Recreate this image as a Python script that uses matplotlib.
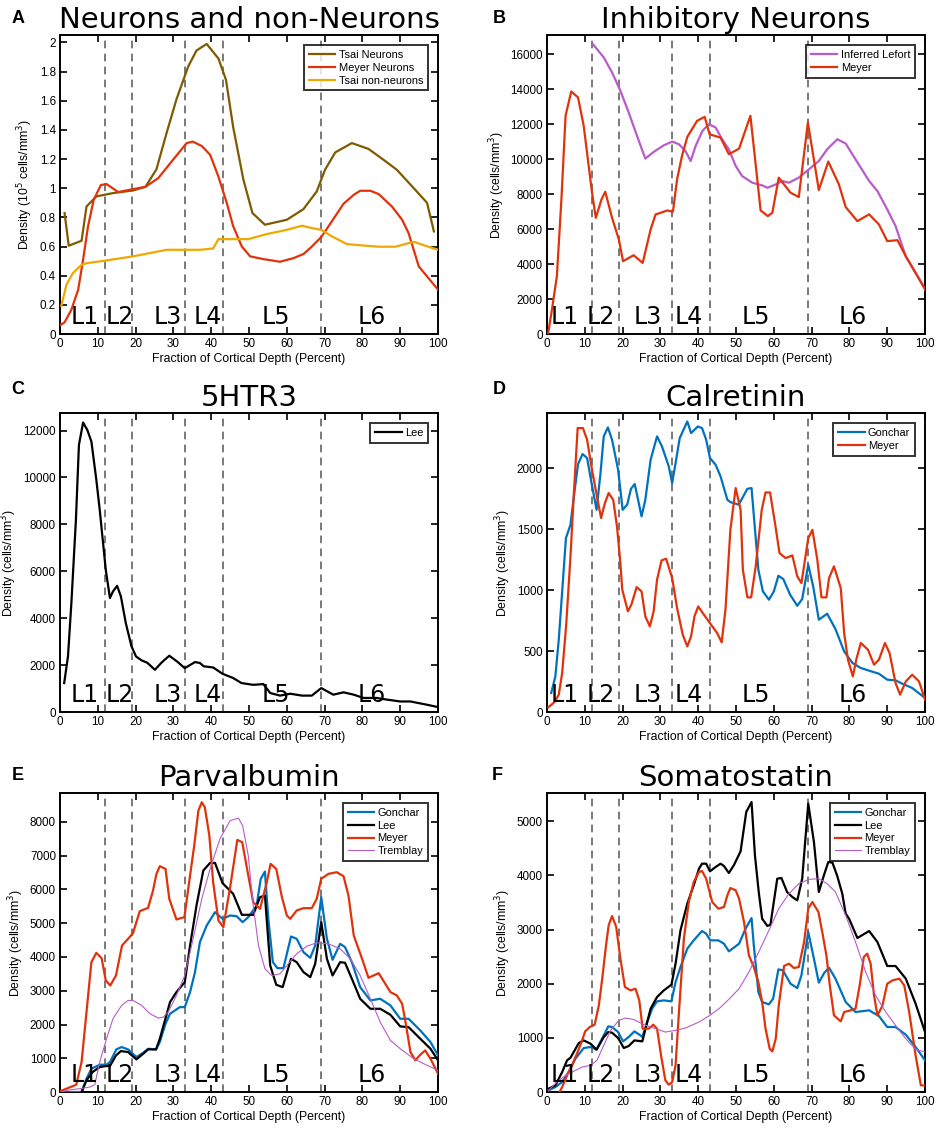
import matplotlib
matplotlib.use("Agg")
import matplotlib.pyplot as plt
from matplotlib.ticker import FuncFormatter

# ---------------- data ----------------
layer_bounds = [12, 19, 33, 43, 69]
layer_names = ["L1", "L2", "L3", "L4", "L5", "L6"]

# A: Neurons and non-Neurons (10^5 cells/mm^3)
tsai_n_x = [1.2, 2.3, 5.7, 7.0, 9.6, 14, 19.3, 22.6, 25.5, 28.2, 30.8, 33.9, 36.1, 38.8, 41.9, 43.9,
            45.8, 48.5, 50.9, 54.2, 60.0, 64.4, 67.9, 70.1, 72.8, 77.2, 81.6, 85.6, 89.1, 93.6, 97.1, 98.9]
tsai_n_y = [0.83, 0.606, 0.64, 0.875, 0.944, 0.967, 0.985, 1.01, 1.13, 1.38, 1.61, 1.835, 1.945, 1.99, 1.89, 1.744,
            1.42, 1.06, 0.83, 0.75, 0.784, 0.857, 0.978, 1.127, 1.246, 1.31, 1.27, 1.195, 1.127, 1.0, 0.9, 0.704]
meyer_n_x = [0.2, 1.2, 3.0, 4.8, 6.1, 7.4, 8.9, 10.8, 12.3, 15.4, 19.3, 22.6, 26.0, 29.1, 33.5, 35.1, 37.5,
             39.7, 41.9, 44.1, 45.8, 48.1, 50.3, 53.8, 58.2, 61.8, 64.4, 66.6, 69.1, 71.9, 75.0, 77.7, 79.4,
             82.1, 84.3, 87.8, 90.5, 92.2, 94.9, 97.1, 100]
meyer_n_y = [0.064, 0.08, 0.167, 0.304, 0.51, 0.738, 0.92, 1.022, 1.029, 0.974, 0.994, 1.01, 1.07, 1.17, 1.31,
             1.32, 1.29, 1.23, 1.08, 0.90, 0.74, 0.60, 0.533, 0.514, 0.496, 0.521, 0.549, 0.60, 0.665, 0.773,
             0.894, 0.955, 0.983, 0.983, 0.96, 0.875, 0.784, 0.693, 0.464, 0.395, 0.304]
tsai_nn_x = [0.35, 1.7, 3.4, 5.7, 7.2, 12.3, 19.3, 28.2, 33.5, 37.0, 40.5, 41.9, 44.1, 49.8, 54.7, 60.0, 64.0,
             66.6, 69.1, 71.9, 75.9, 79.9, 84.3, 88.7, 93.6, 96.6, 100]
tsai_nn_y = [0.194, 0.338, 0.418, 0.475, 0.487, 0.505, 0.533, 0.578, 0.578, 0.578, 0.587, 0.651, 0.651, 0.651,
             0.686, 0.715, 0.743, 0.727, 0.715, 0.67, 0.617, 0.608, 0.599, 0.599, 0.633, 0.606, 0.578]

# B: Inhibitory neurons
lefort_x = [12.1, 15.0, 17.2, 19.4, 21.6, 23.8, 26.0, 28.2, 30.9, 33.1, 34.9, 36.6, 38.0, 39.3, 41.1, 42.8,
            44.6, 46.3, 48.1, 49.9, 51.6, 54.3, 56.9, 58.3, 60.5, 62.2, 64.0, 66.6, 69.3, 71.9, 74.1, 76.8,
            79.0, 81.6, 85.2, 87.4, 90.0, 92.2, 94.9, 97.5, 100]
lefort_y = [16596, 15830, 14970, 13920, 12680, 11340, 10040, 10420, 10800, 11010, 10860, 10480, 9900, 10760,
            11620, 12010, 11820, 11150, 10570, 9620, 9040, 8660, 8510, 8370, 8560, 8760, 8660, 8950, 9430,
            9900, 10570, 11150, 10900, 10000, 8760, 8180, 7130, 6180, 4450, 3500, 2540]
meyer_inh_x = [0.3, 1.3, 2.6, 3.8, 4.9, 6.4, 8.2, 9.7, 11.9, 12.9, 14.4, 15.4, 17.2, 19.0, 20.1, 22.9, 25.3,
               27.4, 28.7, 31.8, 33.3, 34.4, 35.7, 37.1, 39.7, 41.7, 43.0, 45.9, 48.1, 50.8, 53.8, 56.5,
               58.4, 59.6, 61.3, 64.4, 66.6, 69.0, 71.9, 74.4, 77.2, 79.0, 82.1, 85.2, 87.8, 90.0, 92.7,
               94.9, 97.5, 100]
meyer_inh_y = [57, 1400, 3310, 7700, 12490, 13880, 13540, 11910, 8090, 6650, 7700, 8140, 6650, 5410, 4170,
               4510, 4070, 5980, 6840, 7070, 7000, 8850, 10190, 11280, 12200, 12430, 11430, 11240, 10290,
               10610, 12490, 7070, 6750, 6940, 8950, 8090, 7840, 12100, 8240, 9870, 8570, 7270, 6460, 6850,
               6270, 5320, 5370, 4450, 3500, 2580]

# C: 5HTR3
lee_5ht_x = [1.1, 2.1, 3.0, 4.2, 5.0, 6.1, 7.2, 8.3, 9.6, 10.5, 12.1, 13.2, 14.0, 15.1, 16.1, 17.4, 18.9,
             20.1, 21.6, 23.1, 25.1, 26.8, 28.9, 31.0, 33.0, 35.7, 37.0, 38.0, 40.5, 43.0, 45.8, 48.0, 51.1,
             53.8, 55.6, 58.2, 60.9, 64.0, 66.6, 69.1, 72.3, 75.0, 77.7, 80.3, 83.8, 85.6, 90.0, 92.7,
             97.1, 100]
lee_5ht_y = [1235, 2370, 4640, 8190, 11390, 12340, 12030, 11530, 9900, 8620, 6060, 4860, 5140, 5380, 4930,
             3790, 2800, 2370, 2200, 2100, 1800, 2100, 2400, 2150, 1870, 2130, 2090, 1950, 1900, 1630, 1450,
             1235, 1160, 1190, 810, 700, 780, 700, 700, 1020, 740, 840, 740, 600, 600, 550, 450, 450,
             310, 210]

# D: Calretinin
gon_cr_x = [1.1, 2.2, 3.1, 4.1, 5.0, 6.2, 7.1, 8.2, 9.4, 10.6, 11.7, 13.1, 14.1, 15.0, 16.1, 17.2, 18.8,
            20.0, 21.2, 22.2, 23.2, 25.0, 26.0, 27.4, 29.1, 30.4, 32.2, 33.1, 34.0, 35.1, 37.1, 38.1, 39.9,
            41.0, 42.1, 43.1, 44.6, 45.9, 47.7, 48.5, 50.7, 53.0, 54.1, 55.9, 57.1, 58.7, 60.0, 61.2, 62.5,
            64.3, 66.2, 67.5, 69.1, 70.4, 71.9, 74.1, 76.3, 78.6, 80.8, 83.0, 85.2, 87.8, 90.0, 92.2, 94.0,
            96.6, 100]
gon_cr_y = [156, 292, 593, 1030, 1426, 1535, 1768, 2033, 2115, 2082, 1890, 1658, 1945, 2260, 2333, 2232,
            1986, 1658, 1700, 1830, 1869, 1604, 1740, 2068, 2260, 2178, 2014, 1877, 2041, 2246, 2382, 2287,
            2341, 2328, 2232, 2082, 2027, 1932, 1740, 1721, 1700, 1830, 1836, 1167, 989, 921, 989, 1117,
            1090, 962, 871, 926, 1208, 1030, 757, 806, 680, 497, 402, 361, 339, 314, 265, 260, 232, 197, 115]
mey_cr_x = [0.3, 2.0, 3.1, 4.0, 5.1, 6.2, 7.1, 8.1, 9.5, 10.6, 11.9, 13.2, 14.3, 15.3, 16.3, 17.5, 18.5,
            19.4, 19.9, 21.4, 22.3, 23.7, 25.0, 26.0, 27.2, 28.2, 29.1, 30.3, 31.5, 33.1, 34.4, 35.9, 37.1,
            38.1, 39.0, 40.0, 41.2, 43.1, 45.0, 46.2, 47.2, 48.5, 49.9, 51.2, 51.8, 53.0, 54.0, 55.2, 56.8,
            57.8, 59.0, 60.3, 61.5, 63.1, 64.9, 66.2, 67.3, 69.1, 70.2, 71.5, 72.6, 73.9, 74.6, 75.9, 77.7,
            78.6, 79.6, 80.9, 81.8, 83.0, 84.9, 86.5, 87.8, 89.4, 90.6, 92.2, 93.4, 94.9, 96.6, 98.4, 100]
mey_cr_y = [38, 82, 142, 320, 729, 1276, 1795, 2328, 2328, 2232, 1986, 1768, 1590, 1713, 1795, 1740, 1522,
            1221, 1003, 825, 880, 1024, 989, 784, 702, 825, 1085, 1243, 1257, 1098, 852, 634, 538, 620, 784,
            866, 811, 729, 647, 571, 839, 1494, 1836, 1658, 1167, 940, 940, 1194, 1658, 1800, 1800, 1549,
            1303, 1262, 1284, 1112, 1057, 1426, 1494, 1248, 940, 940, 1098, 1194, 1016, 647, 429, 292, 429,
            566, 511, 388, 429, 566, 484, 238, 142, 251, 306, 251, 101]

# E: Parvalbumin
gon_pv_x = [0.4, 5.7, 7.0, 8.3, 10.5, 12.3, 13.2, 14.9, 16.3, 18.0, 20.2, 22.0, 23.3, 25.4, 26.4, 27.9, 29.1,
            31.7, 33.0, 34.4, 35.7, 37.0, 38.8, 41.0, 43.0, 45.0, 46.7, 48.3, 49.8, 52.0, 53.1, 54.2, 55.1,
            56.3, 57.5, 59.1, 61.1, 62.6, 64.4, 66.2, 67.5, 69.1, 70.6, 72.1, 74.1, 75.4, 77.2, 79.4, 82.1,
            84.7, 87.4, 90.0, 92.2, 95.3, 98.0, 100]
gon_pv_y = [0, 0, 395, 690, 809, 809, 888, 1263, 1332, 1263, 1036, 1164, 1282, 1263, 1480, 2022, 2318, 2515,
            2515, 2959, 3551, 4439, 4932, 5327, 5129, 5228, 5208, 5031, 5179, 5524, 6313, 6530, 5129, 3847,
            3669, 3669, 4607, 4538, 4143, 3975, 4340, 5771, 4538, 3916, 4390, 4291, 3847, 3107, 2713, 2762,
            2565, 2170, 2170, 1825, 1480, 1085]
lee_pv_x = [5.7, 7.0, 8.6, 10.5, 12.1, 13.2, 14.8, 16.1, 18.0, 20.2, 22.0, 23.3, 25.4, 26.4, 29.1, 30.8, 33.0,
            34.4, 36.1, 37.9, 39.7, 41.0, 43.0, 45.8, 48.1, 51.1, 52.9, 54.2, 55.6, 57.2, 58.9, 61.1, 62.6,
            64.4, 66.2, 67.5, 69.1, 70.6, 72.1, 74.1, 75.4, 77.2, 79.4, 82.1, 84.7, 87.4, 90.0, 92.2, 95.3,
            98.0, 100]
lee_pv_y = [0, 345, 592, 740, 769, 769, 1085, 1213, 1184, 967, 1134, 1263, 1263, 1578, 2663, 2959, 3255, 4340,
            5524, 6560, 6786, 6786, 6185, 5869, 5248, 5248, 5771, 5820, 3748, 3176, 3107, 3946, 3847, 3551,
            3403, 3798, 5031, 3946, 3452, 3847, 3827, 3354, 2762, 2466, 2466, 2288, 1943, 1923, 1578, 1282, 937]
mey_pv_x = [0.2, 1.7, 4.3, 5.7, 7.0, 8.3, 9.6, 11.0, 12.1, 13.3, 14.8, 16.4, 18.0, 19.3, 21.1, 23.3, 24.6,
            25.5, 26.4, 27.9, 28.9, 30.8, 32.9, 34.4, 35.5, 36.6, 37.5, 38.3, 39.5, 40.5, 41.9, 43.2, 45.0,
            46.9, 48.2, 49.4, 51.1, 52.9, 54.7, 55.7, 57.2, 58.7, 60.0, 60.9, 62.6, 64.4, 66.6, 67.9, 69.1,
            71.0, 73.2, 75.0, 76.3, 77.7, 79.9, 81.6, 84.3, 87.4, 89.1, 90.5, 91.4, 92.7, 94.0, 95.3, 96.6,
            98.0, 100]
mey_pv_y = [30, 99, 217, 888, 2367, 3847, 4123, 3965, 3304, 3156, 3452, 4340, 4538, 4705, 5356, 5455, 5968,
            6461, 6688, 6609, 5721, 5110, 5179, 6412, 7300, 8335, 8582, 8434, 7595, 6215, 5080, 4883, 6066,
            7467, 7398, 6658, 5623, 5425, 6215, 6757, 6609, 5771, 5228, 5129, 5376, 5445, 5445, 5721, 6313,
            6461, 6510, 6392, 5820, 4636, 3946, 3383, 3521, 2959, 2861, 2614, 2071, 1184, 937, 1105, 1233,
            986, 543]
tre_pv_x = [0.4, 1.7, 5.2, 7.9, 9.2, 10.5, 12.3, 14.0, 16.3, 18.0, 19.3, 21.6, 23.8, 26.0, 27.3, 28.6, 30.8,
            33.0, 35.2, 37.5, 39.7, 42.3, 45.0, 47.2, 48.3, 49.8, 51.1, 52.5, 54.2, 56.0, 58.2, 60.0, 62.6,
            65.3, 67.9, 71.0, 74.1, 76.8, 79.4, 82.1, 84.7, 87.4, 90.0, 93.6, 97.1, 100]
tre_pv_y = [0, 50, 99, 148, 217, 888, 1578, 2170, 2565, 2713, 2713, 2565, 2318, 2190, 2219, 2367, 2861, 3452,
            4538, 5721, 6609, 7497, 8040, 8109, 7891, 7003, 5524, 4340, 3650, 3452, 3502, 3748, 4094, 4321,
            4419, 4390, 4242, 3946, 3452, 2762, 2071, 1529, 1282, 986, 789, 641]

# F: Somatostatin
gon_sst_x = [0.4, 2.2, 4.0, 5.7, 7.5, 9.7, 11.5, 13.1, 15.0, 16.2, 17.2, 18.8, 20.1, 21.6, 23.1, 24.7, 25.2,
             26.5, 27.8, 29.1, 30.9, 32.9, 34.0, 35.3, 37.1, 38.8, 41.0, 42.1, 43.2, 45.3, 46.8, 48.1, 50.8,
             52.5, 54.1, 54.7, 55.9, 56.9, 58.7, 59.8, 61.2, 62.4, 64.4, 66.2, 67.3, 69.1, 70.6, 71.9, 73.3,
             74.6, 76.3, 79.0, 81.6, 85.2, 87.8, 90.0, 92.2, 94.9, 97.5, 100]
gon_sst_y = [31, 92, 185, 369, 616, 813, 831, 788, 1047, 1213, 1201, 1108, 936, 1016, 1121, 1047, 1016, 1293,
             1540, 1675, 1693, 1675, 2032, 2309, 2648, 2802, 2974, 2925, 2802, 2802, 2740, 2599, 2740, 3017,
             3214, 2709, 1847, 1663, 1619, 1724, 2266, 2248, 2001, 1921, 2155, 2956, 2463, 2020, 2198, 2297,
             2094, 1663, 1478, 1509, 1404, 1201, 1201, 1059, 831, 585]
lee_sst_x = [0.4, 2.2, 4.0, 5.3, 6.2, 8.4, 9.7, 11.5, 13.1, 15.0, 16.2, 17.2, 18.8, 20.3, 21.6, 23.1, 25.2,
             26.5, 27.4, 29.1, 30.9, 32.9, 34.0, 35.3, 37.1, 38.8, 40.2, 41.0, 42.1, 43.1, 44.6, 45.9, 46.8,
             48.1, 49.4, 51.2, 52.7, 54.1, 55.0, 56.0, 56.9, 58.3, 59.1, 60.9, 62.0, 63.5, 64.9, 66.2, 67.5,
             69.1, 70.6, 71.9, 73.1, 74.4, 75.5, 76.8, 78.1, 79.0, 79.9, 82.1, 85.2, 87.4, 90.0, 92.2, 94.9,
             97.5, 100]
lee_sst_y = [62, 123, 369, 585, 634, 905, 954, 893, 782, 1016, 1108, 1096, 998, 813, 850, 954, 936, 1293,
             1540, 1755, 1878, 1983, 2371, 2987, 3479, 3818, 4126, 4218, 4218, 4077, 4157, 4218, 4175, 4046,
             4187, 4446, 5173, 5357, 4372, 3695, 3202, 3067, 3091, 3941, 3953, 3695, 3602, 3541, 3941, 5327,
             4619, 3695, 3972, 4249, 4237, 3984, 3664, 3295, 3202, 2845, 2974, 2771, 2328, 2328, 2094, 1632,
             1108]
mey_sst_x = [3.3, 4.0, 5.3, 6.6, 7.9, 8.8, 10.1, 11.3, 12.6, 13.7, 14.6, 15.6, 16.3, 17.2, 18.3, 19.4, 20.6,
             22.1, 23.4, 24.4, 25.3, 26.9, 28.1, 29.1, 30.3, 31.3, 32.2, 33.1, 34.0, 34.9, 36.2, 37.5, 38.8,
             40.2, 41.0, 42.1, 43.0, 43.7, 45.3, 46.8, 47.7, 48.5, 49.9, 50.8, 52.1, 53.4, 54.7, 55.9, 56.9,
             57.8, 58.9, 59.6, 60.5, 61.3, 62.7, 64.0, 65.3, 66.6, 68.0, 69.1, 70.2, 71.8, 72.8, 73.9, 74.8,
             75.9, 77.7, 78.6, 80.3, 81.6, 82.7, 83.8, 84.7, 85.6, 86.5, 87.4, 88.7, 90.0, 91.4, 93.2, 94.5,
             95.8, 97.5, 98.9, 100]
mey_sst_y = [0, 92, 308, 493, 708, 862, 1121, 1201, 1244, 1601, 2094, 2709, 3079, 3251, 3048, 2463, 1940,
             1878, 1909, 1693, 1170, 1170, 1244, 1170, 616, 216, 135, 185, 493, 1478, 2833, 3510, 3880, 4064,
             4083, 3941, 3695, 3510, 3387, 3418, 3633, 3769, 3726, 3572, 3141, 2525, 2309, 2032, 1663, 1170,
             801, 751, 985, 1601, 2328, 2371, 2291, 2309, 2771, 3387, 3510, 3325, 2956, 2525, 1970, 1416,
             1306, 1478, 1509, 1540, 1970, 2494, 2556, 2371, 1786, 1416, 1589, 2001, 2063, 2094, 1970, 1478,
             677, 123, 123]
tre_sst_x = [0.4, 2.6, 4.9, 6.6, 9.3, 11.5, 13.2, 15.0, 16.8, 19.0, 20.7, 22.9, 25.6, 28.7, 31.3, 34.0, 36.6,
             40.2, 42.8, 45.5, 48.1, 50.8, 53.4, 56.0, 58.7, 61.3, 64.0, 66.6, 69.3, 71.9, 74.1, 76.3, 79.0,
             81.6, 84.3, 86.9, 89.6, 92.2, 94.9, 97.5, 100]
tre_sst_y = [31, 185, 308, 369, 462, 493, 585, 862, 1139, 1324, 1367, 1342, 1244, 1170, 1108, 1139, 1182,
             1293, 1404, 1540, 1712, 1909, 2217, 2586, 2987, 3387, 3664, 3849, 3929, 3941, 3849, 3695, 3264,
             2771, 2217, 1786, 1478, 1232, 985, 788, 739]

# ---------------- style ----------------
c_brown = "#7E5A00"
c_red = "#E0330C"
c_yellow = "#F0A800"
c_blue = "#0072BD"
c_purple = "#B75CC9"
c_black = "#000000"

tick_font = "Liberation Sans"
title_font = "DejaVu Sans"

fig = plt.figure(figsize=(9.38, 11.32), dpi=100)

W = 0.403
H = 0.264
col_left = [0.064, 0.5832]
row_bottom = [0.7049, 0.3710, 0.0353]

# label offsets differ a bit between columns in the original
layer_text_x = [[6.4, 15.9, 28.4, 39.2, 57.2, 82.5],
                [4.7, 14.1, 26.7, 37.5, 55.3, 80.8]]


def gfmt(v, pos):
    return "%g" % v


def setup(ax, col, title, ylim, ystep, ylabel, ylab_x):
    ax.set_xlim(0, 100)
    ax.set_ylim(0, ylim)
    ax.set_xticks(range(0, 101, 10))
    yt = []
    v = 0
    while v <= ylim + 1e-9:
        yt.append(round(v, 4))
        v += ystep
    ax.set_yticks(yt)
    ax.yaxis.set_major_formatter(FuncFormatter(gfmt))
    ax.tick_params(direction="in", length=5, width=1.2, top=True, right=True,
                   labelsize=8.4, pad=3)
    for lab in ax.get_xticklabels() + ax.get_yticklabels():
        lab.set_fontfamily(tick_font)
    for s in ax.spines.values():
        s.set_linewidth(1.4)
    ax.set_title(title, fontsize=21, fontfamily=title_font, pad=5)
    ax.set_xlabel("Fraction of Cortical Depth (Percent)", fontsize=8.8,
                  fontfamily=tick_font, labelpad=2)
    ax.set_ylabel(ylabel, fontsize=8.8, fontfamily=tick_font)
    ax.yaxis.set_label_coords(ylab_x, 0.5)
    for b in layer_bounds:
        ax.axvline(b, color="#555555", ls=(0, (5, 3.5)), lw=1.1, zorder=1)
    for name, xp in zip(layer_names, layer_text_x[col]):
        ax.text(xp, 0.032, name, transform=ax.get_xaxis_transform(), ha="center",
                va="baseline", fontsize=17, fontfamily=title_font, zorder=5)


def legend(ax):
    leg = ax.legend(loc="upper right", frameon=True, fancybox=False,
                    handlelength=2.4, borderpad=0.45, labelspacing=0.25,
                    handletextpad=0.3, borderaxespad=0.9,
                    prop={"family": tick_font, "size": 7.9})
    leg.get_frame().set_edgecolor("black")
    leg.get_frame().set_linewidth(1.4)


def panel_letter(x, y, s):
    fig.text(x, y, s, fontsize=13, fontweight="bold", fontfamily=tick_font,
             ha="center", va="center")


lw = 1.6
ylab = "Density (cells/mm$^{3}$)"

# A
ax = fig.add_axes([col_left[0], row_bottom[0], W, H])
ax.plot(tsai_n_x, tsai_n_y, color=c_brown, lw=lw, label="Tsai Neurons", zorder=3)
ax.plot(meyer_n_x, meyer_n_y, color=c_red, lw=lw, label="Meyer Neurons", zorder=3)
ax.plot(tsai_nn_x, tsai_nn_y, color=c_yellow, lw=lw, label="Tsai non-neurons", zorder=3)
setup(ax, 0, "Neurons and non-Neurons", 2.05, 0.2, "Density (10$^{5}$ cells/mm$^{3}$)", -0.066)
legend(ax)

# B
ax = fig.add_axes([col_left[1], row_bottom[0], W, H])
ax.plot(lefort_x, lefort_y, color=c_purple, lw=lw, label="Inferred Lefort", zorder=3)
ax.plot(meyer_inh_x, meyer_inh_y, color=c_red, lw=lw, label="Meyer", zorder=3)
setup(ax, 1, "Inhibitory Neurons", 17100, 2000, ylab, -0.106)
legend(ax)

# C
ax = fig.add_axes([col_left[0], row_bottom[1], W, H])
ax.plot(lee_5ht_x, lee_5ht_y, color=c_black, lw=lw, label="Lee", zorder=3)
setup(ax, 0, "5HTR3", 12740, 2000, ylab, -0.108)
legend(ax)

# D
ax = fig.add_axes([col_left[1], row_bottom[1], W, H])
ax.plot(gon_cr_x, gon_cr_y, color=c_blue, lw=lw, label="Gonchar", zorder=3)
ax.plot(mey_cr_x, mey_cr_y, color=c_red, lw=lw, label="Meyer", zorder=3)
setup(ax, 1, "Calretinin", 2450, 500, ylab, -0.09)
legend(ax)

# E
ax = fig.add_axes([col_left[0], row_bottom[2], W, H])
ax.plot(gon_pv_x, gon_pv_y, color=c_blue, lw=lw, label="Gonchar", zorder=3)
ax.plot(lee_pv_x, lee_pv_y, color=c_black, lw=lw, label="Lee", zorder=3)
ax.plot(mey_pv_x, mey_pv_y, color=c_red, lw=lw, label="Meyer", zorder=3)
ax.plot(tre_pv_x, tre_pv_y, color=c_purple, lw=0.8, label="Tremblay", zorder=3)
setup(ax, 0, "Parvalbumin", 8850, 1000, ylab, -0.09)
legend(ax)

# F
ax = fig.add_axes([col_left[1], row_bottom[2], W, H])
ax.plot(gon_sst_x, gon_sst_y, color=c_blue, lw=lw, label="Gonchar", zorder=3)
ax.plot(lee_sst_x, lee_sst_y, color=c_black, lw=lw, label="Lee", zorder=3)
ax.plot(mey_sst_x, mey_sst_y, color=c_red, lw=lw, label="Meyer", zorder=3)
ax.plot(tre_sst_x, tre_sst_y, color=c_purple, lw=0.8, label="Tremblay", zorder=3)
setup(ax, 1, "Somatostatin", 5520, 1000, ylab, -0.09)
legend(ax)

panel_letter(0.019, 0.984, "A")
panel_letter(0.532, 0.984, "B")
panel_letter(0.019, 0.656, "C")
panel_letter(0.532, 0.656, "D")
panel_letter(0.019, 0.3145, "E")
panel_letter(0.530, 0.3145, "F")

fig.savefig("out.png", dpi=100)
